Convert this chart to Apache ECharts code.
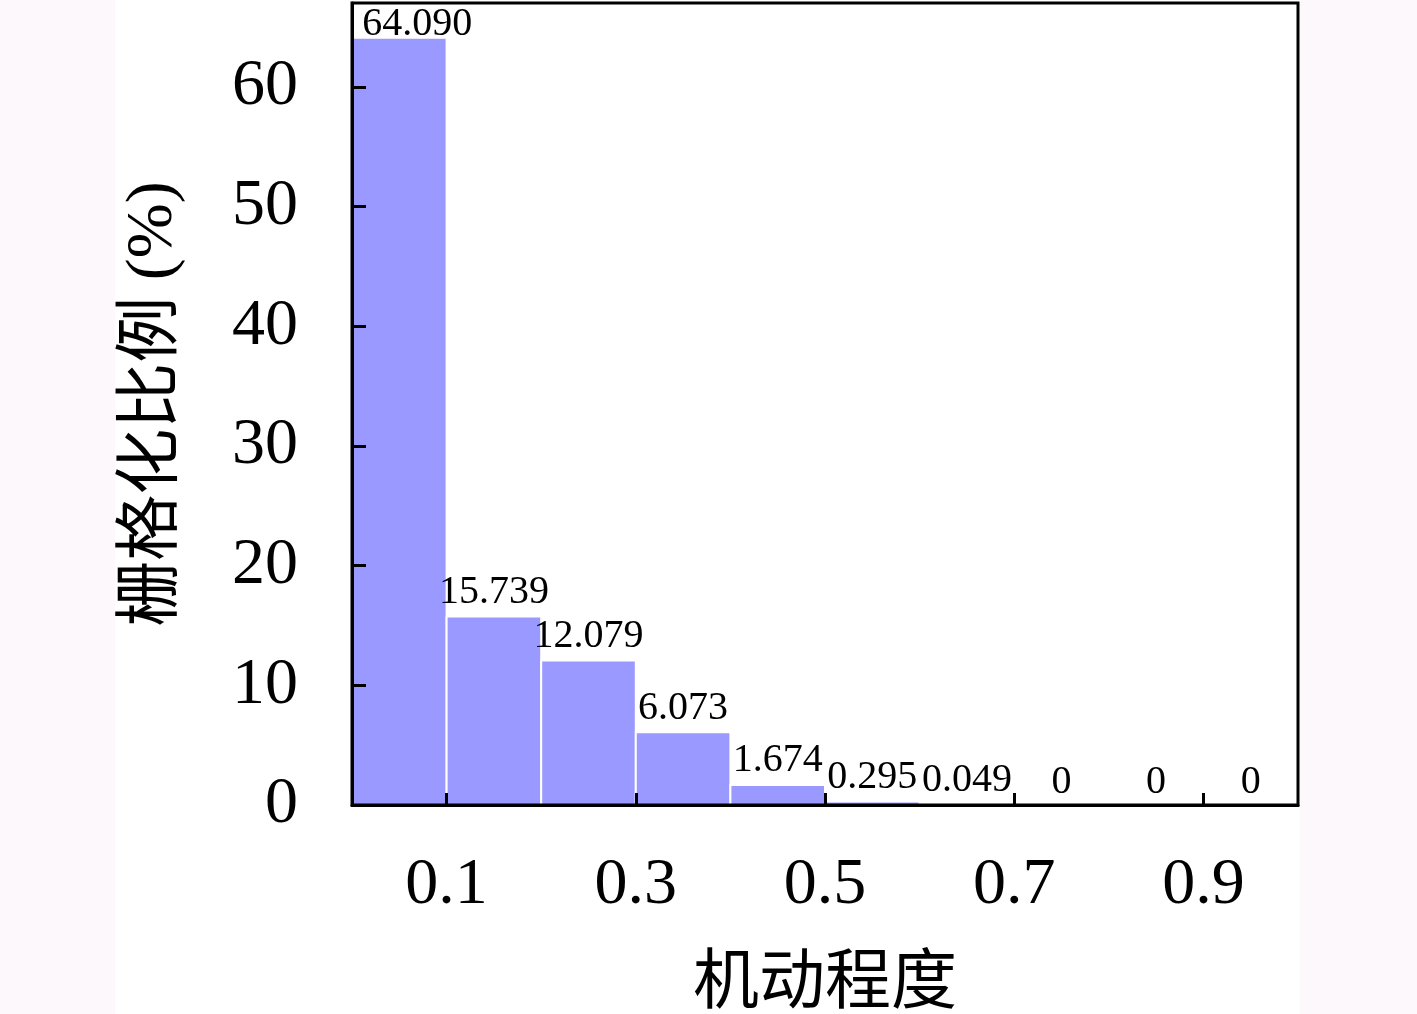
<!DOCTYPE html>
<html>
<head>
<meta charset="utf-8">
<script src="https://cdn.jsdelivr.net/npm/echarts@6/dist/echarts.min.js"></script>
<style>
  html, body { margin: 0; padding: 0; background: #fdf8fc; }
  #chart { width: 1417px; height: 1014px; }
</style>
</head>
<body>
<div id="chart"></div>
<script>
// bins of width 0.1 on 机动程度, value = 栅格化比例 (%)
var binStarts = [0.0, 0.1, 0.2, 0.3, 0.4, 0.5, 0.6, 0.7, 0.8, 0.9];
var binWidth = 0.1;
var ratios = [64.090, 15.739, 12.079, 6.073, 1.674, 0.295, 0.049, 0, 0, 0];
var xTicks = [0.1, 0.3, 0.5, 0.7, 0.9];
var yTicks = [0, 10, 20, 30, 40, 50, 60];

var serif = "'Liberation Serif', 'Noto Sans CJK SC', serif";

var chart = echarts.init(document.getElementById('chart'));

var barData = binStarts.map(function (s, i) {
    return [s, s + binWidth, ratios[i]];
});

var option = {
    animation: false,
    backgroundColor: 'transparent',
    graphic: [{
        type: 'rect',
        z: -10,
        shape: { x: 115, y: 0, width: 1185, height: 1014 },
        style: { fill: '#ffffff' }
    }],
    grid: {
        left: 352,
        right: 119,
        top: 3,
        bottom: 209,
        containLabel: false,
        outerBoundsMode: 'none',
        show: true,
        z: 5,
        borderColor: '#000',
        borderWidth: 3,
        backgroundColor: 'transparent'
    },
    xAxis: {
        type: 'value',
        min: 0,
        max: 1,
        z: 5,
        name: '机动程度',
        nameLocation: 'middle',
        nameGap: 148,
        nameTextStyle: { fontFamily: serif, fontSize: 66, color: '#000' },
        splitLine: { show: false },
        axisLine: { show: true, lineStyle: { color: '#000', width: 3 } },
        axisTick: {
            show: true, inside: true, length: 12,
            lineStyle: { color: '#000', width: 3 },
            customValues: xTicks
        },
        axisLabel: {
            fontFamily: serif, fontSize: 66, color: '#000', margin: 48,
            customValues: xTicks,
            formatter: function (v) { return v.toFixed(1); }
        }
    },
    yAxis: {
        type: 'value',
        min: 0,
        max: 67,
        z: 5,
        name: '栅格化比例 (%)',
        nameLocation: 'middle',
        nameGap: 165,
        nameRotate: 90,
        nameTextStyle: { fontFamily: serif, fontSize: 66, color: '#000' },
        splitLine: { show: false },
        axisLine: { show: true, lineStyle: { color: '#000', width: 3 } },
        axisTick: {
            show: true, inside: true, length: 14,
            lineStyle: { color: '#000', width: 3 },
            customValues: yTicks
        },
        axisLabel: {
            fontFamily: serif, fontSize: 66, color: '#000', margin: 54,
            customValues: yTicks
        }
    },
    series: [{
        type: 'custom',
        z: 1,
        clip: false,
        data: barData,
        encode: { x: [0, 1], y: 2 },
        renderItem: function (params, api) {
            var x0 = api.value(0), x1 = api.value(1), v = api.value(2);
            var p0 = api.coord([x0, 0]);
            var p1 = api.coord([x1, v]);
            var idx = params.dataIndex;
            var txt = v === 0 ? '0' : v.toFixed(3);
            return {
                type: 'rect',
                shape: { x: p0[0], y: p1[1], width: p1[0] - p0[0], height: p0[1] - p1[1] },
                style: { fill: '#9999ff', stroke: v === 0 ? null : '#ffffff', lineWidth: 2 },
                textContent: {
                    style: {
                        text: txt,
                        font: '40px ' + serif,
                        fill: '#000'
                    }
                },
                textConfig: {
                    position: 'top',
                    distance: idx === 0 ? -8 : 3,
                    offset: [idx === 0 ? 18 : 0, 0]
                }
            };
        }
    }]
};

chart.setOption(option);
</script>
</body>
</html>
